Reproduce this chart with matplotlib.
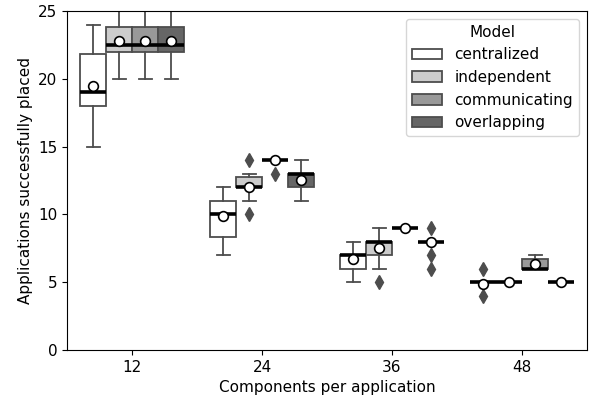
import matplotlib
matplotlib.use("Agg")
import matplotlib.pyplot as plt
from matplotlib.patches import Patch

categories = ["12", "24", "36", "48"]
models = ["centralized", "independent", "communicating", "overlapping"]
colors = ["#ffffff", "#cccccc", "#999999", "#666666"]

# per-model box statistics for each category (12, 24, 36, 48)
centralized = dict(
    whislo=[15, 7, 5, 5], q1=[18, 8.3, 6, 5], med=[19, 10, 7, 5],
    q3=[21.8, 11, 7, 5], whishi=[24, 12, 8, 5], mean=[19.5, 9.85, 6.7, 4.9],
    fliers=[[], [], [], [6, 4]])
independent = dict(
    whislo=[20, 11, 6, 5], q1=[22, 12, 7, 5], med=[22.5, 12, 8, 5],
    q3=[23.8, 12.75, 8, 5], whishi=[26, 13, 9, 5], mean=[22.8, 12.05, 7.5, 5],
    fliers=[[], [14, 10], [5], []])
communicating = dict(
    whislo=[20, 14, 9, 6], q1=[22, 14, 9, 6], med=[22.5, 14, 9, 6],
    q3=[23.8, 14, 9, 6.75], whishi=[26, 14, 9, 7], mean=[22.8, 14, 9, 6.35],
    fliers=[[], [13], [], []])
overlapping = dict(
    whislo=[20, 11, 8, 5], q1=[22, 12, 8, 5], med=[22.5, 13, 8, 5],
    q3=[23.8, 13, 8, 5], whishi=[26, 14, 8, 5], mean=[22.8, 12.55, 8, 5],
    fliers=[[], [], [9, 7, 6], []])

series = [centralized, independent, communicating, overlapping]

fig = plt.figure(figsize=(5.89, 4.01), dpi=100)
ax = fig.add_axes([0.1138, 0.127, 0.8828, 0.8456])

line_c = "#4d4d4d"
width = 0.8 / len(models)
for k, (s, col) in enumerate(zip(series, colors)):
    stats = []
    for i in range(len(categories)):
        stats.append(dict(med=s["med"][i], q1=s["q1"][i], q3=s["q3"][i],
                          whislo=s["whislo"][i], whishi=s["whishi"][i],
                          mean=s["mean"][i], fliers=s["fliers"][i]))
    pos = [i - 0.4 + width * (k + 0.5) for i in range(len(categories))]
    ax.bxp(stats, positions=pos, widths=width, patch_artist=True,
           showmeans=True, manage_ticks=False,
           boxprops=dict(facecolor=col, edgecolor=line_c, linewidth=1.3),
           whiskerprops=dict(color=line_c, linewidth=1.3),
           capprops=dict(color=line_c, linewidth=1.3),
           medianprops=dict(color="black", linewidth=2.6),
           meanprops=dict(marker="o", markerfacecolor="white",
                          markeredgecolor="black", markersize=7,
                          markeredgewidth=1.2),
           flierprops=dict(marker="d", markerfacecolor=line_c,
                           markeredgecolor=line_c, markersize=7))

ax.set_xlim(-0.5, len(categories) - 0.5)
ax.set_ylim(0, 25)
ax.set_xticks(range(len(categories)))
ax.set_xticklabels(categories)
ax.tick_params(labelsize=11)
ax.set_xlabel("Components per application", fontsize=11)
ax.set_ylabel("Applications successfully placed", fontsize=11)

handles = [Patch(facecolor=c, edgecolor=line_c, linewidth=1.3, label=m)
           for m, c in zip(models, colors)]
ax.legend(handles=handles, title="Model", loc="upper right", fontsize=11,
          title_fontsize=11)

fig.savefig("out.png", dpi=100)
